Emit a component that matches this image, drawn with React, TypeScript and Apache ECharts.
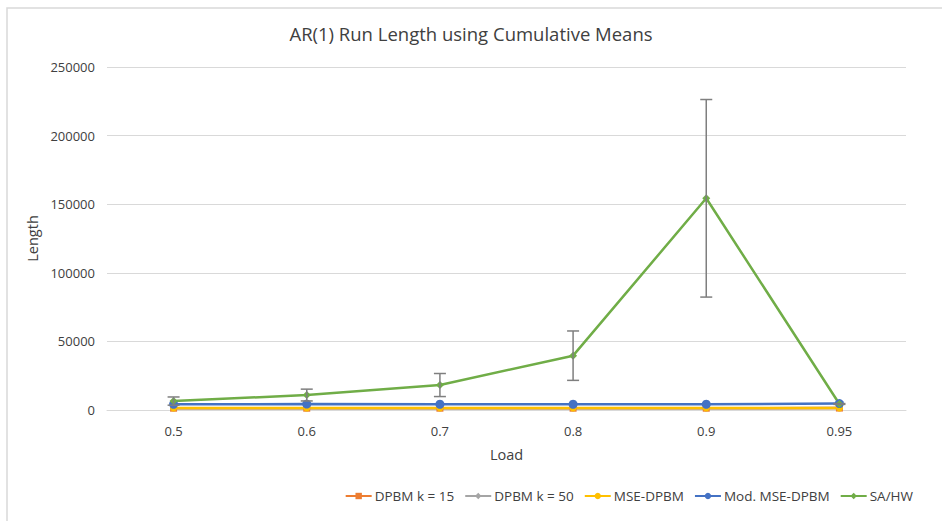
import React, { useEffect, useRef } from "react";
import * as echarts from "echarts";

const categories = ["0.5", "0.6", "0.7", "0.8", "0.9", "0.95"];
const dpbm15 = [1300, 1300, 1300, 1300, 1300, 1400];
const dpbm50 = [1300, 1300, 1300, 1300, 1300, 1400];
const mseDpbm = [1400, 1400, 1400, 1400, 1400, 1500];
const modMseDpbm = [4200, 4300, 4200, 4200, 4200, 4700];
const saHw = [6500, 10900, 18200, 39600, 154300, 4400];
const saHwErr = [3000, 4300, 8400, 18000, 72000, 300];
const yTicks = { min: 0, max: 250000, interval: 50000 };

export default function App() {
  const ref = useRef<HTMLDivElement>(null);
  useEffect(() => {
    if (!ref.current) return;
    const chart = echarts.init(ref.current, undefined, { renderer: "svg" });
    const font = "'Open Sans', 'Noto Sans', sans-serif";
    const errData = saHw.map((v, i) => [i, v - saHwErr[i], v + saHwErr[i]]);
    const lineSeries = (name: string, data: number[], color: string, symbol: string, size: number) => ({
      name,
      type: "line",
      data,
      symbol,
      symbolSize: size,
      showAllSymbol: true,
      lineStyle: { color, width: 2.5 },
      itemStyle: { color },
      z: 3,
    });
    chart.setOption({
      animation: false,
      textStyle: { fontFamily: font },
      title: {
        text: "AR(1) Run Length using Cumulative Means",
        left: "center",
        top: 19,
        textStyle: { fontFamily: font, fontSize: 18.5, fontWeight: "normal", color: "#404040" },
      },
      graphic: [
        {
          type: "rect",
          shape: { x: 7, y: 8, width: 1000, height: 1000 },
          style: { fill: "none", stroke: "#d9d9d9", lineWidth: 1.5 },
          silent: true,
        },
      ],
      legend: {
        bottom: 13,
        right: 24,
        itemWidth: 26,
        itemHeight: 8,
        itemGap: 10,
        textStyle: { fontFamily: font, fontSize: 13.5, color: "#404040", padding: [0, 0, 0, -2] },
        data: ["DPBM k = 15", "DPBM k = 50", "MSE-DPBM", "Mod. MSE-DPBM", "SA/HW"],
      },
      grid: { left: 107, right: 36, top: 67, bottom: 111, containLabel: false },
      xAxis: {
        type: "category",
        data: categories,
        boundaryGap: true,
        name: "Load",
        nameLocation: "middle",
        nameGap: 37,
        nameTextStyle: { fontFamily: font, fontSize: 14.5, color: "#404040" },
        axisLine: { lineStyle: { color: "#d9d9d9" } },
        axisTick: { show: false },
        axisLabel: { color: "#404040", fontSize: 13, margin: 14, fontFamily: font },
      },
      yAxis: {
        type: "value",
        min: yTicks.min,
        max: yTicks.max,
        interval: yTicks.interval,
        name: "Length",
        nameLocation: "middle",
        nameGap: 66,
        nameRotate: 90,
        nameTextStyle: { fontFamily: font, fontSize: 14.5, color: "#404040" },
        axisLine: { show: false },
        axisTick: { show: false },
        splitLine: { lineStyle: { color: "#d9d9d9", width: 1 } },
        axisLabel: {
          color: "#404040",
          fontSize: 13,
          margin: 12,
          fontFamily: font,
          formatter: (v: number) => String(v),
        },
      },
      series: [
        lineSeries("DPBM k = 15", dpbm15, "#ED7D31", "rect", 7),
        lineSeries("DPBM k = 50", dpbm50, "#A5A5A5", "diamond", 7),
        lineSeries("MSE-DPBM", mseDpbm, "#FFC000", "circle", 7),
        lineSeries("Mod. MSE-DPBM", modMseDpbm, "#4472C4", "circle", 9),
        lineSeries("SA/HW", saHw, "#70AD47", "diamond", 8),
        {
          name: "err",
          type: "custom",
          z: 4,
          data: errData,
          renderItem: (params: any, api: any) => {
            const x = api.value(0);
            const lo = api.coord([x, api.value(1)]);
            const hi = api.coord([x, api.value(2)]);
            const w = 6;
            const style = { stroke: "#7f7f7f", lineWidth: 1.5 };
            return {
              type: "group",
              children: [
                { type: "line", shape: { x1: lo[0], y1: lo[1], x2: hi[0], y2: hi[1] }, style },
                { type: "line", shape: { x1: hi[0] - w, y1: hi[1], x2: hi[0] + w, y2: hi[1] }, style },
                { type: "line", shape: { x1: lo[0] - w, y1: lo[1], x2: lo[0] + w, y2: lo[1] }, style },
              ],
            };
          },
        },
      ],
    });
    return () => chart.dispose();
  }, []);
  return (
    <div
      ref={ref}
      style={{ position: "absolute", left: 0, top: 0, width: 942, height: 521, background: "#fff" }}
    />
  );
}
